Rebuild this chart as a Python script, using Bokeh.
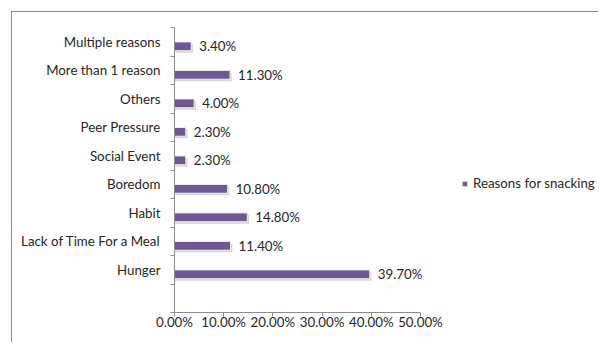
from bokeh.plotting import figure
from bokeh.models import ColumnDataSource, FixedTicker, Legend, LegendItem
from bokeh.core.properties import value
from bokeh.embed import file_html
from bokeh.resources import INLINE

# ---- data ----
categories = ["Hunger", "Lack of Time For a Meal", "Habit", "Boredom",
              "Social Event", "Peer Pressure", "Others",
              "More than 1 reason", "Multiple reasons"]
values = [39.7, 11.4, 14.8, 10.8, 2.3, 2.3, 4.0, 11.3, 3.4]
x_ticks = [0, 10, 20, 30, 40, 50]
series_name = "Reasons for snacking"

FONT = "Lato"
FS = "13.3px"
BAR = "#6d5893"
TXT = "#262626"

slot = [i + 1.5 for i in range(len(categories))]      # category centres
bar_y = [s - 0.16 for s in slot]
shadow_y = [b - 0.07 for b in bar_y]
shadow_r = [v + 0.35 for v in values]
labels = ["%.2f%%" % v for v in values]

src = ColumnDataSource(dict(y=bar_y, v=values, sy=shadow_y, sr=shadow_r,
                            lab=labels))

p = figure(width=587, height=331, output_backend="svg", toolbar_location=None,
           x_range=(0, 86.4), y_range=(0, 10),
           min_border_left=162, min_border_top=15, min_border_right=0,
           min_border_bottom=31)
p.margin = (11, 0, 0, 11)
p.styles = {"border-top": "1.5px solid #8c8c8c",
            "border-left": "1.5px solid #8c8c8c"}
p.outline_line_color = None
p.grid.visible = False
p.background_fill_color = "white"
p.border_fill_color = "white"

# shadow and bars
p.hbar(y="sy", right="sr", left=0, height=0.31, source=src,
       fill_color="#cccccc", line_color=None, fill_alpha=0.8)
bars = p.hbar(y="y", right="v", left=0, height=0.31, source=src,
              fill_color=BAR, line_color="#f2f2f2", line_width=1)
p.text(x="v", y="y", text="lab", source=src, x_offset=8,
       text_baseline="middle", text_align="left",
       text_font=value(FONT), text_font_size=FS, text_color=TXT)

# x axis
xa = p.xaxis[0]
xa.ticker = FixedTicker(ticks=x_ticks)
xa.major_label_overrides = {t: "%.2f%%" % t for t in x_ticks}
xa.bounds = (0, 50)
xa.axis_line_color = "#8c8c8c"
xa.major_tick_line_color = "#8c8c8c"
xa.major_tick_out = 4
xa.major_tick_in = 0
xa.minor_tick_line_color = None
xa.major_label_standoff = -3
xa.major_label_text_font = FONT
xa.major_label_text_font_size = FS
xa.major_label_text_color = TXT

# y axis: labels at slot centres, ticks at slot boundaries
ya = p.yaxis[0]
ya.ticker = FixedTicker(ticks=slot, minor_ticks=list(range(0, 11)))
ya.major_label_overrides = {s: c for s, c in zip(slot, categories)}
ya.axis_line_color = "#8c8c8c"
ya.major_tick_line_color = None
ya.major_tick_out = 0
ya.major_tick_in = 0
ya.minor_tick_line_color = "#8c8c8c"
ya.minor_tick_out = 4
ya.minor_tick_in = 0
ya.major_label_standoff = 10
ya.major_label_text_font = FONT
ya.major_label_text_font_size = FS
ya.major_label_text_color = TXT

legend = Legend(items=[LegendItem(label=series_name, renderers=[bars])],
                location=(287, 121), orientation="vertical",
                glyph_width=7, glyph_height=7, label_standoff=5,
                padding=0, margin=0, spacing=0,
                border_line_color=None, background_fill_alpha=0,
                label_text_font=FONT, label_text_font_size=FS,
                label_text_color=TXT)
p.add_layout(legend, "center")

open("out.html", "w").write(file_html(p, INLINE))
